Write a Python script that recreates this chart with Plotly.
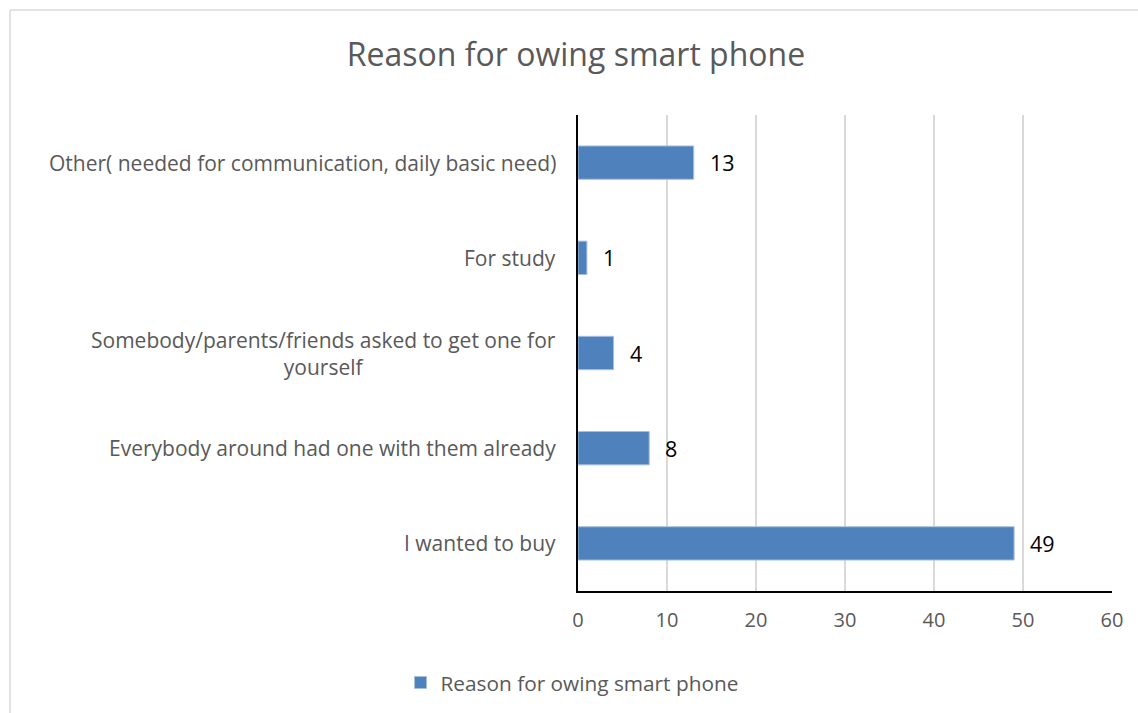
import plotly.graph_objects as go

# Survey responses: why respondents own a smart phone
categories = [
    "I wanted to buy",
    "Everybody around had one with them already",
    "Somebody/parents/friends asked to get one for<br>yourself",
    "For study",
    "Other( needed for communication, daily basic need)",
]
counts = [49, 8, 4, 1, 13]
series_name = "Reason for owing smart phone"
x_ticks = [0, 10, 20, 30, 40, 50, 60]

W, H = 1138, 713
ML, MR, MT, MB = 578, 26, 115, 122
PW, PH = W - ML - MR, H - MT - MB

FONT = "Open Sans"
GREY = "#595959"
BAR = "#4F81BD"

fig = go.Figure()
fig.add_trace(go.Bar(
    x=counts,
    y=categories,
    orientation="h",
    name=series_name,
    marker=dict(color=BAR, line=dict(color="#A7BFDE", width=1)),
    width=0.35,
    showlegend=True,
))

annotations = []
# value labels to the right of each bar
for cat, val in zip(categories, counts):
    annotations.append(dict(
        x=val, y=cat, xref="x", yref="y", text=str(val),
        showarrow=False, xanchor="left", yanchor="middle", xshift=14,
        font=dict(family=FONT, size=21.5, color="#000000"),
    ))
# category labels, centred line-by-line and right-anchored next to the axis
for cat in categories:
    annotations.append(dict(
        x=0, y=cat, xref="paper", yref="y", text=cat,
        showarrow=False, xanchor="right", yanchor="middle", xshift=-20,
        align="center",
        font=dict(family=FONT, size=21, color=GREY),
    ))

# chart-area border (top and left edges visible)
bx0 = (10 - ML) / PW
by1 = 1 + (MT - 10) / PH
shapes = [
    dict(type="line", xref="paper", yref="paper", x0=bx0, x1=(W + 5 - ML) / PW,
         y0=by1, y1=by1, line=dict(color="#D9D9D9", width=1.5)),
    dict(type="line", xref="paper", yref="paper", x0=bx0, x1=bx0,
         y0=by1, y1=-(MB + 5) / PH, line=dict(color="#D9D9D9", width=1.5)),
]

fig.update_layout(
    width=W, height=H,
    margin=dict(l=ML, r=MR, t=MT, b=MB),
    paper_bgcolor="white", plot_bgcolor="white",
    title=dict(text=series_name, x=576 / W, xanchor="center",
               y=1 - 55 / H, yanchor="middle", xref="container", yref="container",
               font=dict(family=FONT, size=32, color=GREY)),
    xaxis=dict(range=[0, 60], tickvals=x_ticks, showgrid=True,
               gridcolor="#D9D9D9", gridwidth=1.5, zeroline=False,
               showline=True, linecolor="#000000", linewidth=1.5,
               ticks="outside", ticklen=10, tickcolor="rgba(0,0,0,0)",
               tickfont=dict(family=FONT, size=20, color=GREY)),
    yaxis=dict(categoryorder="array", categoryarray=categories,
               showticklabels=False, showgrid=False, zeroline=False,
               showline=True, linecolor="#000000", linewidth=1.5,
               range=[-0.5, len(categories) - 0.5]),
    legend=dict(orientation="h", x=572 / W, xanchor="center", xref="container",
                y=1 - 683 / H, yanchor="middle", yref="container",
                font=dict(family=FONT, size=20.8, color=GREY),
                itemwidth=30),
    annotations=annotations,
    shapes=shapes,
    bargap=0.65,
)

fig.write_html("out.html")
